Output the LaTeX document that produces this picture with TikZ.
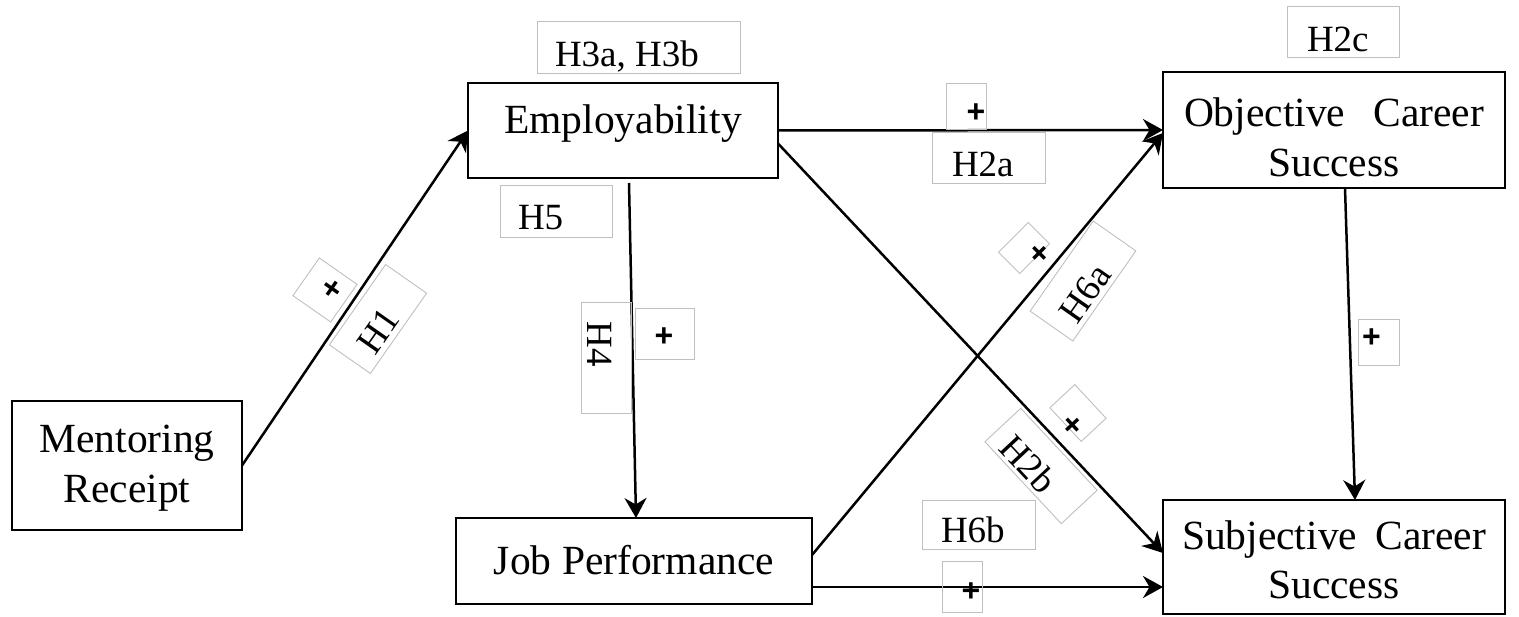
\documentclass[tikz,border=0pt]{standalone}
\usepackage{fontspec}
\setmainfont{Liberation Serif}
\newfontfamily\plusfam{Liberation Sans}
\usetikzlibrary{arrows.meta}
\newcommand\bfnt{\fontsize{41.5}{50}\selectfont}
\newcommand\lfnt{\fontsize{37}{40}\selectfont}
\newcommand\pfnt{\plusfam\bfseries\fontsize{32}{36}\selectfont}
\newcommand\twoln[2]{\vtop{\baselineskip=50pt\lineskiplimit=-100pt\lineskip=0pt\hbox to 0pt{\hss#1\hss}\hbox to 0pt{\hss#2\hss}}}
\newcommand\tlab[3]{\makebox[#1pt][l]{\hspace*{#2pt}#3}}
\newcommand\plab[3]{\makebox[#1pt][l]{\hspace*{#2pt}\raisebox{#3pt}{\makebox[18pt]{\pfnt+}}}}
\tikzset{
  box/.style={draw, line width=2.6pt, inner sep=0pt, outer sep=0pt, font=\bfnt},
  lb/.style={draw=black!25, line width=0.9pt, inner sep=0pt, outer sep=0pt, font=\lfnt},
  pl/.style={draw=black!25, line width=0.9pt, inner sep=0pt, outer sep=0pt, text depth=0pt},
  arr/.style={-{Stealth[length=20pt,width=22pt]}, line width=2.5pt}
}
\begin{document}
\begin{tikzpicture}[x=1pt,y=-1pt]
\useasboundingbox (0,0) rectangle (1519,617);
% main boxes
\node[box, minimum width=230pt, minimum height=129pt, text height=52pt, text depth=77pt] (men) at (127,465.5) {\twoln{Mentoring}{Receipt}};
\node[box, minimum width=310pt, minimum height=95pt, text height=51pt, text depth=44pt] (emp) at (623,130.5) {Employability};
\node[box, minimum width=356pt, minimum height=86pt, text height=56pt, text depth=30pt] (job) at (634,561) {Job Performance};
\node[box, minimum width=342pt, minimum height=116pt, text height=55pt, text depth=61pt] (obj) at (1334,130) {\twoln{\makebox[300pt][s]{Objective Career}}{Success}};
\node[box, minimum width=342pt, minimum height=114pt, text height=49pt, text depth=65pt] (subj) at (1334,557) {\twoln{\makebox[304pt][s]{Subjective Career}}{Success}};
% connectors
\draw[arr] (men.east) -- (emp.west);
\draw[arr] (emp.east) -- (obj.west);
\draw[arr] ([yshift=-13pt]emp.east) -- ([yshift=4pt]subj.west);
\draw[arr] ([xshift=6pt,yshift=-5pt]emp.south) -- ([xshift=2pt]job.north);
\draw[arr] ([yshift=6pt]job.east) -- ([yshift=-3pt]obj.west);
\draw[arr] ([yshift=-26pt]job.east) -- ([yshift=-30pt]subj.west);
\draw[arr] ([xshift=11pt]obj.south) -- ([xshift=21pt]subj.north);
% text labels
\node[lb, text height=46pt, text depth=6pt] (l3) at (638.5,47) {\tlab{203}{18}{H3a, H3b}};
\node[lb, text height=45pt, text depth=7pt] (l5) at (556,211) {\tlab{112}{18}{H5}};
\node[lb, text height=45pt, text depth=6pt] (l2a) at (988.5,157.5) {\tlab{113}{20}{H2a}};
\node[lb, text height=46pt, text depth=5pt] (l2c) at (1343,31.5) {\tlab{112}{20}{H2c}};
\node[lb, rotate=-90, text height=44pt, text depth=6pt] (l4) at (606,357.5) {\tlab{111}{20}{H4}};
\node[lb, text height=43pt, text depth=6pt] (l6b) at (978.5,524.5) {\tlab{113}{19}{H6b}};
\node[lb, rotate=55, text height=44pt, text depth=6pt] (l1) at (378,319) {\tlab{98}{17}{H1}};
\node[lb, rotate=55, text height=47pt, text depth=5pt] (l6a) at (1083,281) {\tlab{110}{15}{H6a}};
\node[lb, rotate=-47, text height=45pt, text depth=4pt] (l2b) at (1041,466) {\tlab{112}{14}{H2b}};
% plus labels
\node[pl, text height=46pt] (p2a) at (966,106) {\plab{40}{21}{6.5}};
\node[pl, text height=46pt] (p2c) at (1378.5,342) {\plab{41}{4.5}{17}};
\node[pl, text height=51pt] (p4) at (664.5,333.5) {\plab{59}{20}{12}};
\node[pl, text height=51pt] (p6b) at (962.5,586.5) {\plab{40}{19.5}{10.5}};
\node[pl, rotate=55, text height=46pt] (p1) at (325,290) {\plab{46}{19}{7}};
\node[pl, rotate=45, text height=30pt] (p6a) at (1024,248) {\plab{42}{19}{-10}};
\node[pl, rotate=-47, text height=34pt] (p2b) at (1078,413) {\plab{46}{19.4}{-5.8}};
\end{tikzpicture}
\end{document}
